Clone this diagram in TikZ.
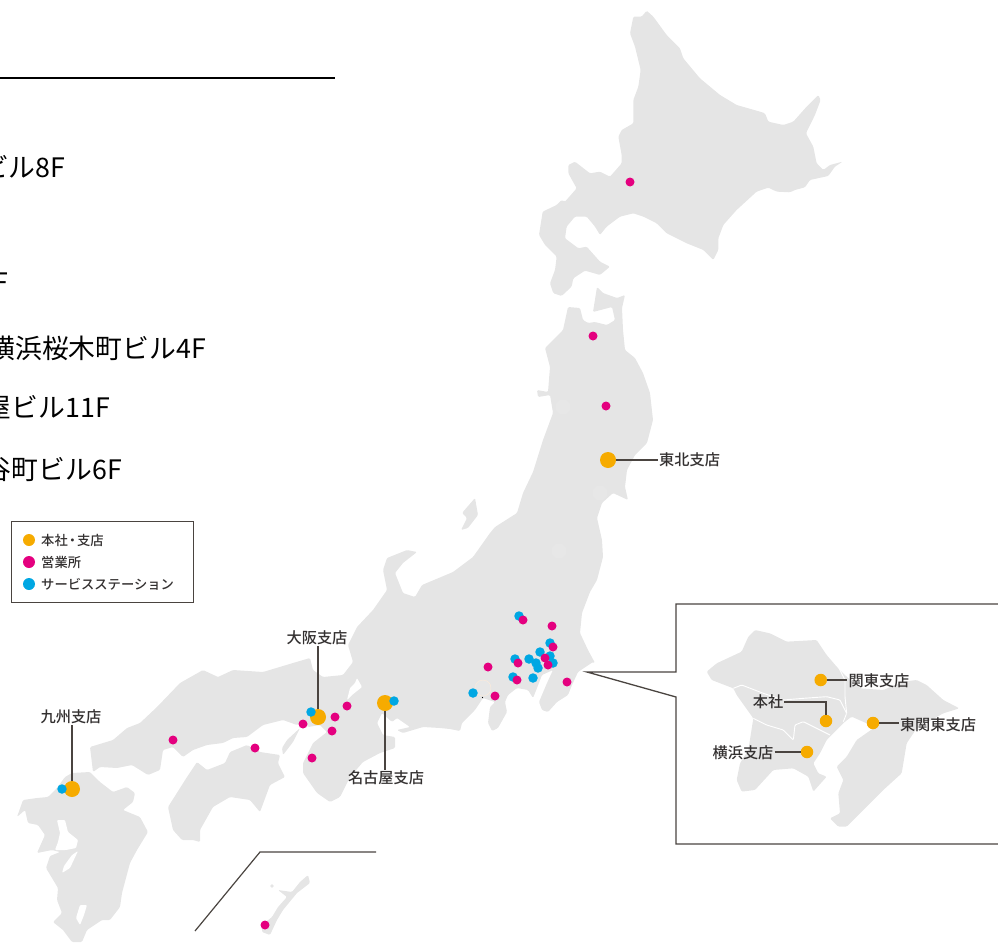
\documentclass[tikz,border=0pt]{standalone}
\usepackage{fontspec}
\setmainfont{Noto Sans CJK JP}
\newfontfamily\labfont[UprightFont=* Medium]{Noto Sans CJK JP}
\definecolor{land}{HTML}{E5E5E5}
\definecolor{faint}{HTML}{E7E7E7}
\definecolor{ora}{HTML}{F6AB00}
\definecolor{mag}{HTML}{E4007F}
\definecolor{cya}{HTML}{00A7E3}
\definecolor{ink}{HTML}{4A4440}
\definecolor{lab}{HTML}{333030}
\tikzset{
  landfill/.style={fill=land,rounded corners=1.2pt},
  hole/.style={fill=white,rounded corners=1pt},
  bord/.style={draw=white,line width=0.9pt,rounded corners=1pt},
  hq/.style={circle,fill=ora,inner sep=0pt,minimum size=16pt},
  hqs/.style={circle,fill=ora,inner sep=0pt,minimum size=12.5pt},
  sales/.style={circle,fill=mag,inner sep=0pt,minimum size=9pt},
  svc/.style={circle,fill=cya,inner sep=0pt,minimum size=9.5pt},
  legdot/.style={circle,inner sep=0pt,minimum size=12pt},
  conn/.style={draw=ink,line width=1.2pt},
  frame/.style={draw=ink,line width=1.3pt},
  lbl/.style={font=\labfont\fontsize{15.2}{17}\selectfont,text=lab,inner sep=1pt},
  leg/.style={font=\labfont\fontsize{13.3}{15}\selectfont,text=lab,inner sep=0pt,anchor=west},
  body/.style={font=\fontsize{26.8}{28}\selectfont,text=black,inner sep=0pt,anchor=east}
}
\begin{document}
\begin{tikzpicture}[x=1pt,y=-1pt]
\useasboundingbox (0,0) rectangle (998,942);
\clip (0,0) rectangle (998,942);
% heading rule and cut-off text
\coordinate (ruleL) at (0,78);
\coordinate (ruleR) at (335,78);
\draw[black,line width=2.7pt] (ruleL) -- (ruleR);
\node[body] (t1) at (65.5,167) {ビル8F};
\node[body] (t2) at (8,283) {F};
\node[body] (t3) at (206,348) {横浜桜木町ビル4F};
\node[body] (t4) at (110,408) {屋ビル11F};
\node[body] (t5) at (122,470) {谷町ビル6F};
% legend
\node[draw=ink,line width=1pt,minimum width=182pt,minimum height=81pt,inner sep=0pt,anchor=north west] (legend) at (11,521) {};
\node[legdot,fill=ora] (l1) at (29,540) {};
\node[legdot,fill=mag] (l2) at (29,562) {};
\node[legdot,fill=cya] (l3) at (29,584) {};
\node[leg] (lt1) at (41,540) {本社\kern-2pt・\kern-2pt支店};
\node[leg] (lt2) at (41,562) {営業所};
\node[leg] (lt3) at (41,584) {サービスステーション};
% Hokkaido
\begin{scope}[shift={(520,0)},x=0.3333pt,y=-0.3333pt]
\fill[landfill] (380,32)--(400,50)--(440,105)--(480,145)--(490,175)--(540,235)--(600,285)--(650,315)--(720,335)--(735,340)--(745,365)--(790,375)--(820,365)--(860,320)--(895,285)--(902,300)--(885,345)--(858,400)--(880,440)--(890,490)--(910,510)--(930,495)--(968,485)--(945,500)--(925,528)--(870,540)--(855,562)--(825,570)--(810,577)--(770,575)--(745,563)--(710,575)--(650,630)--(610,675)--(595,715)--(595,750)--(580,780)--(550,750)--(500,730)--(440,700)--(410,670)--(370,650)--(340,640)--(300,650)--(260,680)--(240,705)--(225,680)--(200,650)--(165,650)--(140,680)--(135,715)--(175,745)--(200,740)--(240,785)--(270,800)--(240,825)--(195,812)--(160,835)--(155,860)--(125,888)--(100,880)--(90,850)--(105,810)--(110,770)--(75,735)--(57,705)--(68,635)--(110,615)--(125,600)--(135,605)--(170,565)--(145,520)--(145,495)--(165,485)--(210,520)--(240,515)--(270,530)--(305,490)--(305,465)--(295,410)--(305,390)--(340,370)--(340,300)--(355,260)--(362,210)--(345,140)--(330,100)--(340,50)--(365,50)--cycle;
\end{scope}
% Honshu
\fill[landfill] (597,287)--(603,293)--(617,298)--(625,295)--(622,308)--(623,330)--(625,350)--(635,358)--(643,373)--(650,393)--(653,420)--(647,443)--(635,455)--(627,470)--(625,487)--(628,500)--(613,493)--(602,503)--(597,518)--(602,540)--(603,557)--(597,580)--(590,592)--(582,613)--(580,633)--(588,650)--(595,663)--(593,662)--(578,672)--(572,685)--(568,695)--(557,702)--(548,712)--(542,710)--(539,702)--(547,683)--(553,670)--(542,675)--(537,688)--(533,698)--(528,690)--(517,688)--(508,695)--(505,702)--(507,712)--(498,728)--(492,731)--(488,723)--(490,707)--(495,702)--(483,698)--(475,710)--(462,723)--(460,731)--(450,729)--(440,728)--(423,727)--(403,733)--(397,730)--(410,727)--(397,718)--(392,722)--(382,713)--(377,723)--(383,735)--(395,737)--(395,748)--(380,753)--(363,762)--(350,777)--(340,797)--(330,802)--(317,793)--(303,773)--(303,763)--(313,743)--(327,732)--(320,725)--(308,727)--(303,722)--(297,725)--(283,720)--(263,725)--(247,737)--(233,738)--(223,743)--(207,745)--(193,750)--(183,757)--(173,747)--(163,750)--(160,770)--(148,775)--(132,765)--(117,768)--(100,767)--(93,772)--(90,747)--(113,740)--(127,728)--(140,723)--(157,707)--(180,683)--(203,670)--(218,677)--(233,670)--(263,672)--(293,663)--(310,658)--(313,670)--(323,677)--(343,675)--(353,662)--(348,645)--(357,627)--(373,610)--(387,590)--(383,570)--(387,558)--(407,550)--(417,552)--(403,563)--(395,573)--(403,593)--(415,597)--(422,585)--(453,572)--(473,557)--(490,533)--(495,527)--(517,513)--(523,493)--(533,472)--(543,440)--(553,413)--(550,395)--(538,397)--(537,390)--(548,392)--(550,367)--(545,348)--(553,340)--(563,330)--(568,307)--(580,308)--(583,320)--(588,323)--(595,322)--(607,325)--(615,320)--(612,307)--(593,312)--cycle;
% Lake Biwa
\fill[hole] (357,678)--(362,687)--(352,695)--(347,700)--(350,688)--(355,683)--cycle;
% Sado
\fill[landfill] (475,498)--(478,515)--(468,528)--(461,530)--(467,518)--(462,513)--cycle;
% Awaji
\fill[landfill] (300,728)--(293,742)--(283,755)--(282,748)--(287,740)--cycle;
% Shikoku
\fill[landfill] (197,762)--(207,770)--(225,763)--(230,752)--(247,745)--(260,752)--(280,755)--(278,763)--(285,777)--(270,785)--(260,812)--(250,800)--(230,797)--(213,807)--(200,830)--(200,842)--(193,840)--(182,840)--(173,830)--(168,807)--(187,777)--cycle;
% Kyushu
\fill[landfill] (72,773)--(90,772)--(100,782)--(113,792)--(127,787)--(135,793)--(133,802)--(123,810)--(140,817)--(148,832)--(137,850)--(130,863)--(122,893)--(120,907)--(110,920)--(102,920)--(87,930)--(82,942)--(72,942)--(63,930)--(53,922)--(62,913)--(57,900)--(58,888)--(52,878)--(46,868)--(50,856)--(60,852)--(52,850)--(37,853)--(45,835)--(38,825)--(28,823)--(25,810)--(17,817)--(23,800)--(37,798)--(48,797)--(57,788)--(65,777)--cycle;
\fill[hole] (57,820)--(65,820)--(68,832)--(78,840)--(76,848)--(66,850)--(55,850)--(58,842)--(60,833)--cycle;
\fill[hole] (78,851)--(70,868)--(62,873)--(64,866)--(72,855)--cycle;
\fill[hole] (80,905)--(87,905)--(84,915)--(80,925)--(76,918)--cycle;
% Okinawa
\fill[landfill] (308,875)--(310,883)--(297,893)--(283,910)--(277,920)--(270,935)--(262,932)--(262,925)--(272,917)--(278,907)--(287,897)--(278,890)--(292,892)--(300,882)--cycle;
\fill[land] (272,886) circle (1.8);
% faint spots on the land
\fill[faint] (563,407) circle (7.5);
\fill[faint] (600,493) circle (7.5);
\fill[faint] (559,551) circle (7.5);
\fill[faint,draw=orange!15,line width=0.4pt] (483,688) circle (8);
\fill[black] (482.5,697.5) circle (0.6);
% Okinawa frame
\coordinate (okA) at (195,931);
\coordinate (okB) at (260,852);
\coordinate (okC) at (376,852);
\draw[conn,line join=miter] (okA) -- (okB) -- (okC);
% inset frame
\coordinate (inTR) at (1000,604);
\coordinate (inTL) at (676,604);
\coordinate (inA) at (676,672);
\coordinate (inTip) at (587,672);
\coordinate (inB) at (676,697);
\coordinate (inBL) at (676,844);
\coordinate (inBR) at (1000,844);
\draw[frame] (inTR) -- (inTL) -- (inA) -- (inTip) -- (inB) -- (inBL) -- (inBR);
% inset map
\begin{scope}[shift={(670,600)},x=0.3333pt,y=-0.3333pt]
\fill[landfill] (255,90)--(300,100)--(350,125)--(440,120)--(470,165)--(500,200)--(530,230)--(570,265)--(640,270)--(700,245)--(740,240)--(770,255)--(820,300)--(868,325)--(820,340)--(740,385)--(710,430)--(695,520)--(640,570)--(590,620)--(530,680)--(505,680)--(480,655)--(510,640)--(505,580)--(520,540)--(500,500)--(530,470)--(560,420)--(610,385)--(590,370)--(545,350)--(525,365)--(490,400)--(470,420)--(450,460)--(430,490)--(445,520)--(470,530)--(430,575)--(415,530)--(370,505)--(310,510)--(255,570)--(215,575)--(200,540)--(210,490)--(235,450)--(250,355)--(200,285)--(190,265)--(125,240)--(110,215)--(140,190)--(215,155)--(235,110)--cycle;
\draw[bord] (190,265)--(215,255)--(280,280)--(340,300)--(400,295)--(470,290)--(510,300)--(530,340)--(520,365);
\draw[bord] (250,355)--(290,375)--(340,390)--(370,420)--(375,375)--(400,365)--(450,390)--(480,405);
\draw[bord] (490,170)--(525,240)--(525,290)--(530,340);
\end{scope}
% dots: head office and branches
\node[hq] (tohoku) at (608,460) {};
\node[hq] (osaka) at (318,717) {};
\node[hq] (nagoya) at (385,703) {};
\node[hq] (kyushu) at (72,789) {};
\node[hqs] (kanto) at (820.7,680) {};
\node[hqs] (honsha) at (826,721) {};
\node[hqs] (higashi) at (873,723) {};
\node[hqs] (yokohama) at (807,752) {};
% service stations
\foreach \n/\x/\y in {a/519/616,b/550/643,c/540/652,d/550/656,e/553/663,f/515/659,g/529/659,h/536/663,i/538/668,j/513/677,k/533/678,m/473/693,o/311/712,n/394/701,q/62/789}
  \node[svc] (s\n) at (\x,\y) {};
% sales offices
\foreach \n/\x/\y in {a/630/182,b/593/336,c/606/406,d/523/620,e/552/626,f/553/647,g/545/658,h/548/665,i/518/663,j/488/667,k/517/680,m/495/696,n/567/682,o/303/724,p/335/717,q/347/706,r/332/731,s/312/758,t/255/748,u/173/740,v/265/925}
  \node[sales] (m\n) at (\x,\y) {};
% labels
\node[lbl,anchor=west] (tohokuL) at (658,460) {東北支店};
\node[lbl] (osakaL) at (317,638) {大阪支店};
\node[lbl] (nagoyaL) at (386,778) {名古屋支店};
\node[lbl] (kyushuL) at (71,717) {九州支店};
\node[lbl] (kantoL) at (879,681) {関東支店};
\node[lbl] (honshaL) at (768,702) {本社};
\node[lbl] (higashiL) at (938,725) {東関東支店};
\node[lbl] (yokohamaL) at (743,753) {横浜支店};
% connectors
\draw[conn] (tohoku) -- (tohoku -| tohokuL.west);
\draw[conn] (osakaL.south -| osaka) -- (osaka);
\draw[conn] (nagoya) -- (nagoya |- nagoyaL.north);
\draw[conn] (kyushuL.south -| kyushu) -- (kyushu);
\draw[conn] (kanto) -- (kanto -| kantoL.west);
\draw[conn] (honshaL.east) -- (honshaL.east -| honsha) -- (honsha);
\draw[conn] (higashi) -- (higashi -| higashiL.west);
\draw[conn] (yokohamaL.east |- yokohama) -- (yokohama);
\end{tikzpicture}
\end{document}
